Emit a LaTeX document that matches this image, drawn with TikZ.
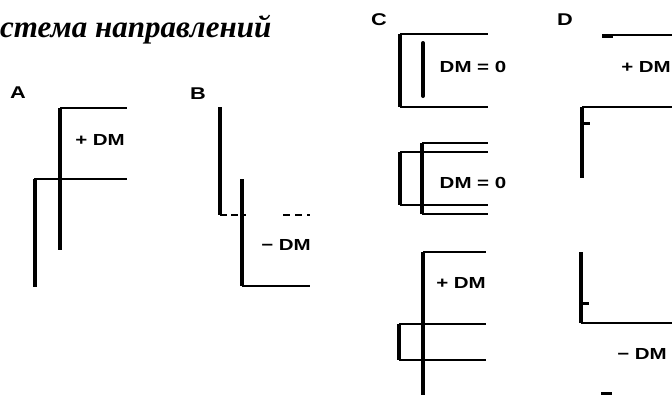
\documentclass[tikz,border=0pt]{standalone}
\usepackage{fontspec}
\usepackage{tikz}
\newfontfamily\labfont[FakeStretch=1.28]{Liberation Sans}
\newfontfamily\titlefont{Liberation Serif}

\begin{document}
\begin{tikzpicture}[%
      x=1pt, y=-1pt,
      bar/.style={line width=4.5pt},
      rule/.style={line width=1.1pt},
      tick/.style={line width=3pt},
      dm/.style={font=\labfont\bfseries\fontsize{16}{19}\selectfont, inner sep=0pt},
      panel/.style={font=\labfont\bfseries\fontsize{17}{20}\selectfont, inner sep=0pt},
      ]
      \useasboundingbox (0,0) rectangle (672,394);

      \node [anchor=base west, inner sep=0pt,
             font=\titlefont\bfseries\itshape\fontsize{31}{35}\selectfont]
             (title) at (0,37) {стема направлений};

      \node [panel] (labA) at (18,93) {A};
      \node [panel] (labB) at (198,94) {B};
      \node [panel] (labC) at (379,20) {C};
      \node [panel] (labD) at (565,20) {D};

      % A
      \draw [bar] (60,108) -- (60,250);
      \draw [rule] (60,108) -- (127,108);
      \draw [rule] (34,179) -- (127,179);
      \draw [bar] (35,179) -- (35,287);
      \node [dm] (dmA) at (100,140) {+ DM};

      % B
      \draw [bar] (220,107) -- (220,215);
      \draw [rule, dash pattern=on 7pt off 4pt] (220,215) -- (246,215);
      \draw [rule, dash pattern=on 7pt off 5pt] (283,215) -- (310,215);
      \draw [bar] (242,179) -- (242,286);
      \draw [rule] (242,286) -- (310,286);
      \node [dm] (dmB) at (286,245) {− DM};

      % C
      \draw [bar] (400,34) -- (400,107);
      \draw [rule] (400,34) -- (488,34);
      \draw [rule] (400,107) -- (488,107);
      \draw [line width=4pt, line cap=round] (423,43) -- (423,96);
      \node [dm] (dmC1) at (473,67) {DM = 0};

      \draw [bar] (422,143) -- (422,214);
      \draw [rule] (422,143) -- (488,143);
      \draw [rule] (400,152) -- (488,152);
      \draw [bar] (400,152) -- (400,205);
      \draw [rule] (400,205) -- (488,205);
      \draw [rule] (422,214) -- (488,214);
      \node [dm] (dmC2) at (473,183) {DM = 0};

      \draw [bar] (423,252) -- (423,396);
      \draw [rule] (423,252) -- (486,252);
      \draw [rule] (399,324) -- (486,324);
      \draw [rule] (399,360) -- (486,360);
      \draw [bar] (399,324) -- (399,360);
      \node [dm] (dmC3) at (461,283) {+ DM};

      % D
      \draw [tick] (602,36) -- (613,36);
      \draw [rule] (602,35) -- (672,35);
      \node [dm] (dmD1) at (646,67) {+ DM};

      \draw [bar] (582,107) -- (582,178);
      \draw [rule] (582,107) -- (672,107);
      \draw [tick] (582,123) -- (590,123);

      \draw [bar] (581,252) -- (581,323);
      \draw [tick] (581,303) -- (589,303);
      \draw [rule] (581,323) -- (672,323);
      \node [dm] (dmD2) at (642,354) {− DM};

      \draw [line width=4pt] (601,394) -- (612,394);
      \end{tikzpicture}
\end{document}
